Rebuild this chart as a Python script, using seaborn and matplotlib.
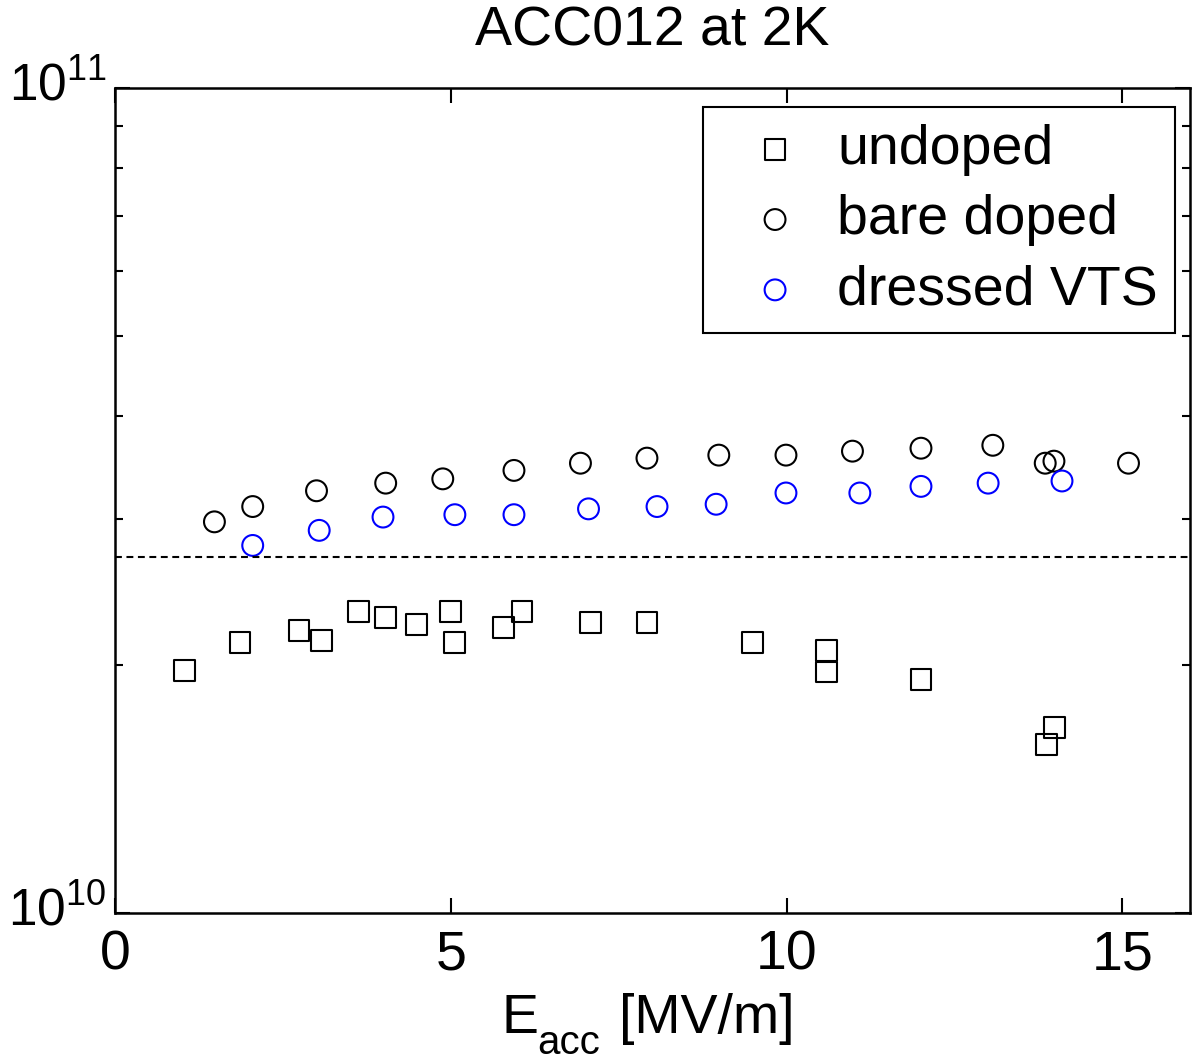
import numpy as np
import pandas as pd
import seaborn as sns
import matplotlib
matplotlib.use("Agg")
import matplotlib.pyplot as plt
from matplotlib.ticker import LogLocator, NullFormatter
from matplotlib.transforms import ScaledTranslation

sns.set_style("ticks")
plt.rcParams['font.family'] = ['Liberation Sans', 'DejaVu Sans']
plt.rcParams['mathtext.fontset'] = 'custom'
plt.rcParams['mathtext.rm'] = 'Liberation Sans'
plt.rcParams['mathtext.it'] = 'Liberation Sans:italic'
plt.rcParams['mathtext.bf'] = 'Liberation Sans:bold'
for k in ['text.color', 'axes.labelcolor', 'xtick.color', 'ytick.color', 'axes.edgecolor']:
    plt.rcParams[k] = 'black'

# undoped cavity
undoped_e = [1.03, 1.86, 2.74, 3.08, 3.62, 4.03, 4.49, 4.99, 5.06, 5.79, 6.06,
             7.08, 7.92, 9.49, 10.59, 10.59, 12.00, 13.99, 13.87]
undoped_q = [1.97e10, 2.13e10, 2.20e10, 2.14e10, 2.32e10, 2.28e10, 2.24e10, 2.32e10,
             2.13e10, 2.22e10, 2.32e10, 2.25e10, 2.25e10, 2.13e10, 2.08e10, 1.96e10,
             1.92e10, 1.68e10, 1.60e10]

# bare doped
bare_e = [1.48, 2.05, 3.00, 4.03, 4.88, 5.94, 6.93, 7.92, 8.99, 9.99, 10.98,
          12.00, 13.07, 13.85, 13.98, 15.09]
bare_q = [2.98e10, 3.11e10, 3.25e10, 3.32e10, 3.36e10, 3.44e10, 3.51e10, 3.56e10,
          3.59e10, 3.59e10, 3.63e10, 3.66e10, 3.69e10, 3.51e10, 3.53e10, 3.51e10]

# dressed VTS
vts_e = [2.05, 3.04, 3.99, 5.06, 5.94, 7.05, 8.07, 8.95, 9.99, 11.09, 12.00, 13.00, 14.10]
vts_q = [2.79e10, 2.91e10, 3.02e10, 3.04e10, 3.04e10, 3.09e10, 3.11e10, 3.13e10,
         3.23e10, 3.23e10, 3.29e10, 3.32e10, 3.34e10]

spec_q = 2.7e10

fig = plt.figure(figsize=(11.92, 10.62), dpi=100)
ax = fig.add_axes([0.0965, 0.1403, 0.9015, 0.7767])

msize = 225
lw = 1.5
sns.scatterplot(x=undoped_e, y=undoped_q, marker='s', s=msize, facecolors='none',
                edgecolor='black', linewidth=lw, label='undoped', ax=ax)
sns.scatterplot(x=bare_e, y=bare_q, marker='o', s=msize, facecolors='none',
                edgecolor='black', linewidth=lw, label='bare doped', ax=ax)
sns.scatterplot(x=vts_e, y=vts_q, marker='o', s=msize, facecolors='none',
                edgecolor='blue', linewidth=lw, label='dressed VTS', ax=ax)

ax.axhline(spec_q, color='black', lw=1.5, ls=(0, (3.3, 2.2)))

ax.set_yscale('log')
ax.set_xlim(0, 16)
ax.set_ylim(1e10, 1e11)
ax.set_xticks([0, 5, 10, 15])
ax.yaxis.set_major_locator(LogLocator(base=10, numticks=5))
ax.yaxis.set_minor_locator(LogLocator(base=10, subs=np.arange(2, 10), numticks=12))
ax.yaxis.set_minor_formatter(NullFormatter())

ax.tick_params(which='both', direction='in', top=True, right=True, width=1.5,
               colors='black')
ax.tick_params(which='major', length=11)
ax.tick_params(which='minor', length=6)
ax.tick_params(axis='x', labelsize=40, pad=12)
ax.tick_params(axis='y', labelsize=37, pad=6)
for sp in ax.spines.values():
    sp.set_linewidth(1.8)
    sp.set_color('black')

ax.set_title('ACC012 at 2K', fontsize=40, pad=31)

# x label: E with a deep subscript, as in the original
fig.text(501 / 1192, 29 / 1062, 'E', fontsize=40, va='baseline', ha='left')
fig.text(537 / 1192, 8 / 1062, 'acc', fontsize=29, va='baseline', ha='left')
fig.text(619 / 1192, 29 / 1062, '[MV/m]', fontsize=40, va='baseline', ha='left')

leg = ax.legend(loc='upper right', bbox_to_anchor=(0.986, 0.977), borderaxespad=0,
                fontsize=40, frameon=True, fancybox=False, edgecolor='black',
                framealpha=1, handletextpad=0.12, labelspacing=0.33, borderpad=0.3,
                handlelength=2.0)
leg.get_frame().set_linewidth(1.5)

fig.canvas.draw()
for lab in ax.get_yticklabels():
    lab.set_transform(lab.get_transform() + ScaledTranslation(0, 5 / 72, fig.dpi_scale_trans))

fig.savefig('out.png', dpi=100)
